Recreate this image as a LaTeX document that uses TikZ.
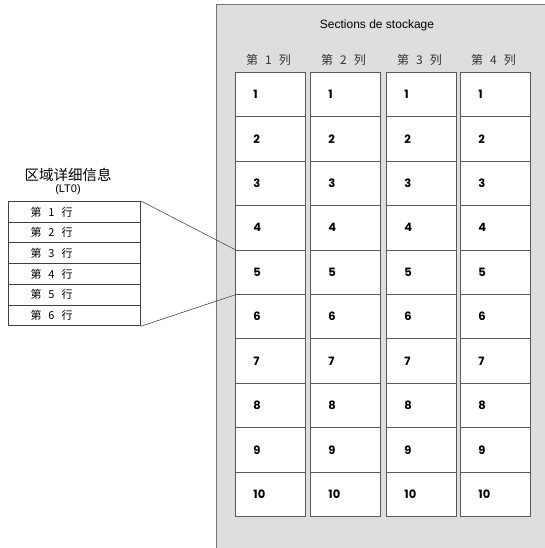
\documentclass[tikz,border=0pt]{standalone}
\usepackage{fontspec}
\setmainfont{Liberation Sans}
\newfontfamily\cjk{Noto Sans CJK SC}
\newfontfamily\numfont{Poppins}
\usetikzlibrary{positioning}
\newcommand{\cgap}{\hspace{7pt}}
\begin{document}
\begin{tikzpicture}[x=1pt, y=-1pt,
    cell/.style={draw=black!65, fill=white, line width=0.9pt,
      minimum width=70pt, minimum height=44.4pt, text width=34pt,
      inner xsep=18pt, align=left, anchor=north west,
      font=\numfont\bfseries\fontsize{11.5}{13}\selectfont},
    rowbox/.style={draw=black!75, fill=white, line width=1pt,
      minimum width=132pt, minimum height=20.7pt, text width=88pt,
      inner xsep=22pt, align=left, anchor=north west,
      font=\cjk\fontsize{11}{12}\selectfont},
    colhead/.style={font=\cjk\fontsize{12}{13}\selectfont, text=black!80},
    link/.style={draw=black!70, line width=0.6pt}]
  \useasboundingbox (0,0) rectangle (545,548);

  % Storage panel
  \fill [black!13] (216,5) rectangle (560,560);
  \draw [black!55, line width=1pt] (560,5) -- (216,5) -- (216,560);
  \node [font=\fontsize{12}{14}\selectfont] (title) at (377,25) {Sections de stockage};

  % Columns of cells
  \foreach \c/\x in {1/235, 2/310, 3/386, 4/460} {
    \foreach \r in {1,...,10} {
      \pgfmathsetmacro\y{72 + 44.4 * (\r - 1)};
      \node [cell] (c\c-\r) at (\x, \y) {\r};
    }
    \node [colhead, above=3pt of c\c-1, xshift=-2pt] (h\c) {第\cgap\c\cgap 列};
  }

  % Row details
  \node [font=\cjk\fontsize{14.5}{16}\selectfont] (ltitle) at (68,175) {区域详细信息};
  \node [font=\fontsize{11}{12}\selectfont, inner sep=0pt] (lsub) at (68,190) {(LT0)};
  \foreach \r in {1,...,6} {
    \pgfmathsetmacro\y{201 + 20.7 * (\r - 1)};
    \node [rowbox] (r\r) at (8, \y) {第\cgap\r\cgap 行};
  }

  % Links to cell 5
  \draw [link] (r1.north east) -- (c1-5.north west);
  \draw [link] (r6.south east) -- (c1-5.south west);
\end{tikzpicture}
\end{document}
